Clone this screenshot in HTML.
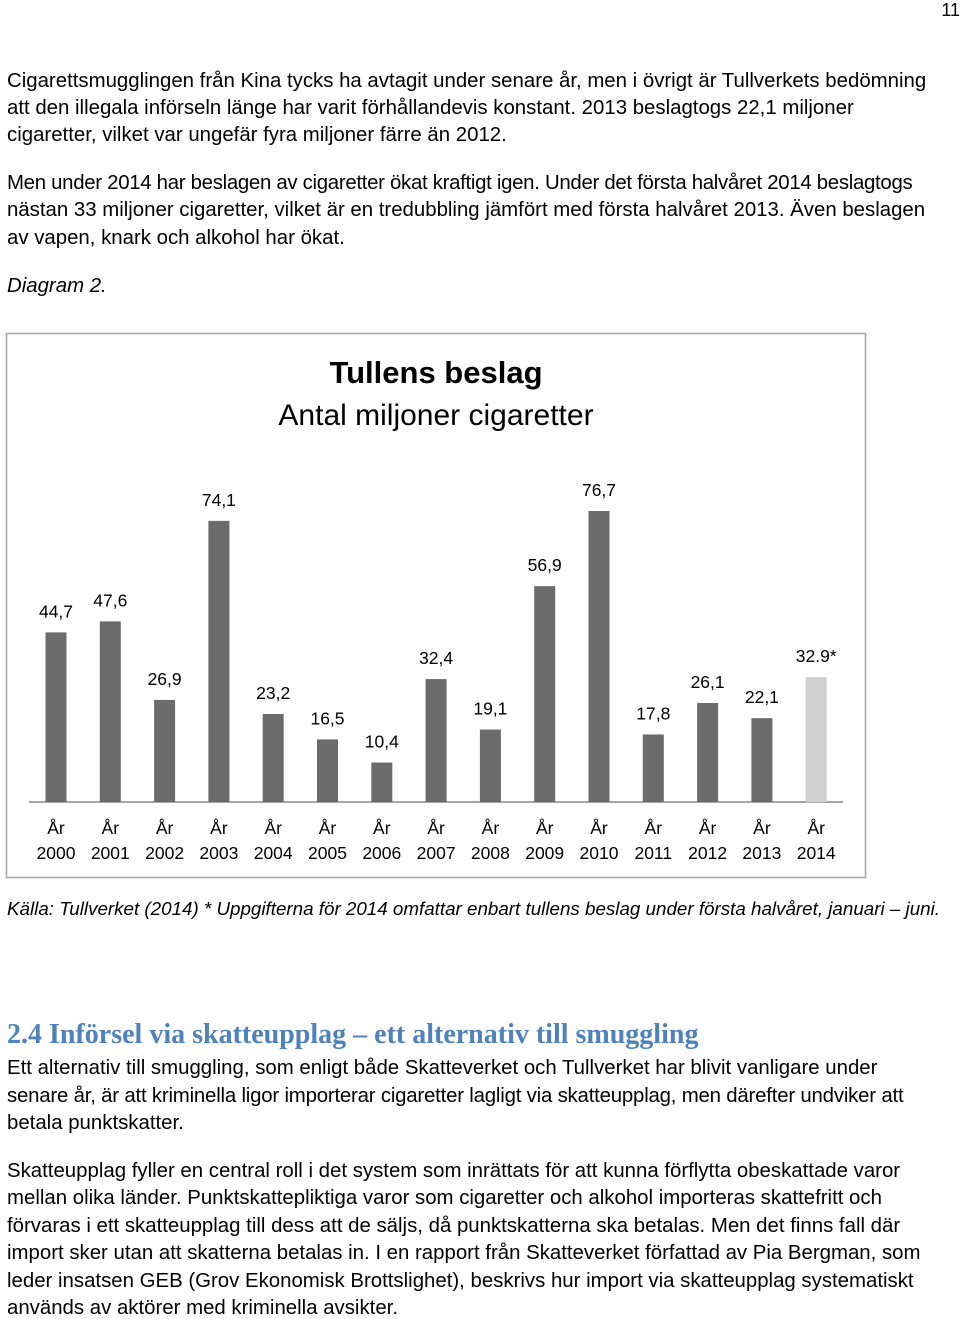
<!DOCTYPE html>
<html><head><meta charset="utf-8"><style>
body{margin:0;width:960px;height:1316px;background:#fff;position:relative;overflow:hidden;font-family:"Liberation Sans",sans-serif;color:#000}
.l{position:absolute;left:7px;white-space:nowrap;font-size:20.4px;line-height:22px}
</style></head><body>
<div style="position:absolute;right:0;top:0;font-size:18px">11</div>
<div>
<div class="l" style="top:70px">Cigarettsmugglingen från Kina tycks ha avtagit under senare år, men i övrigt är Tullverkets bedömning</div>
<div class="l" style="top:97px">att den illegala införseln länge har varit förhållandevis konstant. 2013 beslagtogs 22,1 miljoner</div>
<div class="l" style="top:124px">cigaretter, vilket var ungefär fyra miljoner färre än 2012.</div>
</div>
<div>
<div class="l" style="top:172px;letter-spacing:-0.3px">Men under 2014 har beslagen av cigaretter ökat kraftigt igen. Under det första halvåret 2014 beslagtogs</div>
<div class="l" style="top:199px">nästan 33 miljoner cigaretter, vilket är en tredubbling jämfört med första halvåret 2013. Även beslagen</div>
<div class="l" style="top:227px">av vapen, knark och alkohol har ökat.</div>
</div>
<div class="l" style="top:275px;font-style:italic">Diagram 2.</div>

<svg style="position:absolute;left:0;top:0" width="960" height="900" font-family="Liberation Sans, sans-serif">
<rect x="6.5" y="333.5" width="859" height="544" fill="#fff" stroke="#a6a6a6" stroke-width="1.5"/>
<text x="436" y="383" text-anchor="middle" font-size="31" font-weight="bold">Tullens beslag</text>
<text x="436" y="425" text-anchor="middle" font-size="30">Antal miljoner cigaretter</text>
<line x1="29" y1="802" x2="843" y2="802" stroke="#888" stroke-width="1.5"/>
<g id="bars"></g>
</svg>
<script>
const categories=["2000","2001","2002","2003","2004","2005","2006","2007","2008","2009","2010","2011","2012","2013","2014"];
const values=[44.7,47.6,26.9,74.1,23.2,16.5,10.4,32.4,19.1,56.9,76.7,17.8,26.1,22.1,32.9];
const valueLabels=["44,7","47,6","26,9","74,1","23,2","16,5","10,4","32,4","19,1","56,9","76,7","17,8","26,1","22,1","32.9*"];
const NS="http://www.w3.org/2000/svg";
const g=document.getElementById('bars');
const x=i=>56+i*54.3;
const y=v=>802-v*3.794;
categories.forEach((c,i)=>{
  const v=values[i];
  const r=document.createElementNS(NS,'rect');
  
  
  r.setAttribute('x',x(i)-10.5);r.setAttribute('width',21);
  r.setAttribute('y',y(v));r.setAttribute('height',802-y(v));
  r.setAttribute('fill',i===categories.length-1?'#d0d0d0':'#6b6b6b');
  g.appendChild(r);
  const t=document.createElementNS(NS,'text');
  
  
  t.setAttribute('x',x(i));t.setAttribute('y',y(v)-15);
  t.setAttribute('text-anchor','middle');t.setAttribute('font-size','17.5');
  t.textContent=valueLabels[i];g.appendChild(t);
  const a=document.createElementNS(NS,'text');
  
  
  a.setAttribute('text-anchor','middle');a.setAttribute('font-size','17.5');
  a.setAttribute('x',x(i));a.setAttribute('y',834);a.textContent='År';g.appendChild(a);
  const b=document.createElementNS(NS,'text');
  
  
  b.setAttribute('text-anchor','middle');b.setAttribute('font-size','17.5');
  b.setAttribute('x',x(i));b.setAttribute('y',859);b.textContent=c;g.appendChild(b);
});
</script>
<div class="l" style="top:898px;font-style:italic;font-size:18.8px">Källa: Tullverket (2014) * Uppgifterna för 2014 omfattar enbart tullens beslag under första halvåret, januari – juni.</div>
<div class="l" style="top:1020px;font-family:'Liberation Serif',serif;font-weight:bold;font-size:28px;line-height:30px;color:#4f81bd">2.4 Införsel via skatteupplag – ett alternativ till smuggling</div>
<div>
<div class="l" style="top:1057px">Ett alternativ till smuggling, som enligt både Skatteverket och Tullverket har blivit vanligare under</div>
<div class="l" style="top:1085px;letter-spacing:-0.2px">senare år, är att kriminella ligor importerar cigaretter lagligt via skatteupplag, men därefter undviker att</div>
<div class="l" style="top:1112px">betala punktskatter.</div>
</div>
<div>
<div class="l" style="top:1160px">Skatteupplag fyller en central roll i det system som inrättats för att kunna förflytta obeskattade varor</div>
<div class="l" style="top:1187px">mellan olika länder. Punktskattepliktiga varor som cigaretter och alkohol importeras skattefritt och</div>
<div class="l" style="top:1215px">förvaras i ett skatteupplag till dess att de säljs, då punktskatterna ska betalas. Men det finns fall där</div>
<div class="l" style="top:1242px">import sker utan att skatterna betalas in. I en rapport från Skatteverket författad av Pia Bergman, som</div>
<div class="l" style="top:1270px">leder insatsen GEB (Grov Ekonomisk Brottslighet), beskrivs hur import via skatteupplag systematiskt</div>
<div class="l" style="top:1297px">används av aktörer med kriminella avsikter.</div>
</div>
</body></html>
